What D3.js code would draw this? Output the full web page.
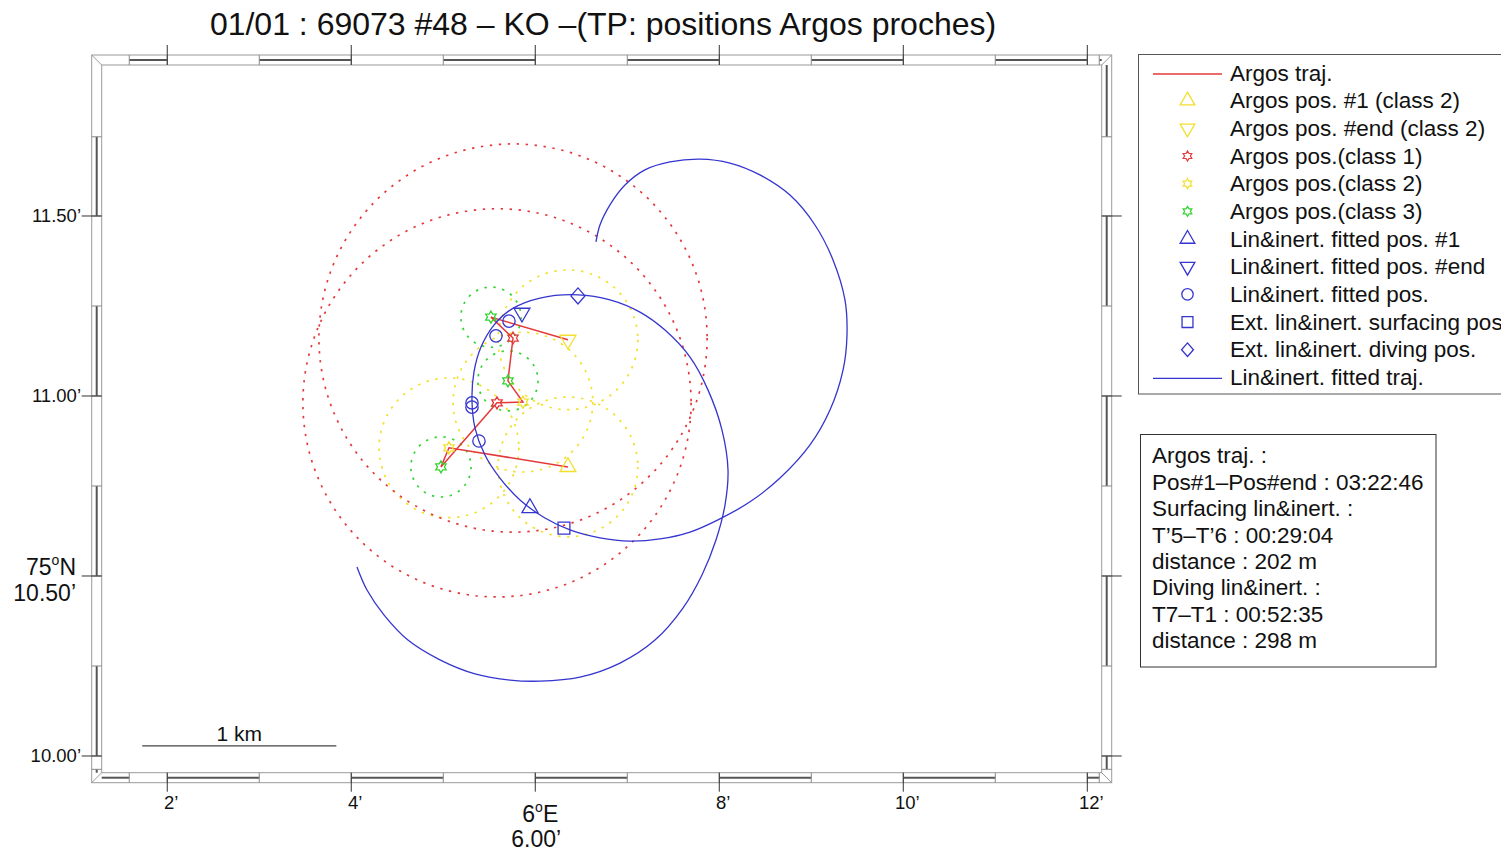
<!DOCTYPE html>
<html><head><meta charset="utf-8">
<script src="https://cdn.jsdelivr.net/npm/d3@7"></script>
<style>
body{margin:0;background:#fff}
svg{display:block}
text{font-family:"Liberation Sans",Arial,Helvetica,sans-serif;fill:#111}
</style>
</head><body>
<svg id="c" width="1501" height="852"></svg>
<script>
// ---------------- DATA (lon / lat in minutes of arc, 6°E / 75°N) ----------------
const titleText = "01/01 : 69073 #48 \u2013 KO \u2013(TP: positions Argos proches)";

// Argos positions in time order
const argosLon   = [6.355, 5.062, 4.975, 5.584, 5.866, 5.703, 5.758, 5.518, 6.355];
const argosLat   = [10.803, 10.856, 10.803, 10.981, 10.983, 11.042, 11.161, 11.219, 11.156];
const argosClass = [2, 2, 3, 1, 2, 3, 1, 3, 2];
// error radius (m) by Argos class
const errClass   = [1, 2, 3];
const errRadiusM = [1000, 360, 155];

// Lin & inert. fitted positions (#1 ... #end)
const fitLon = [5.942, 5.388, 5.312, 5.312, 5.573, 5.714, 5.855];
const fitLat = [10.689, 10.875, 10.981, 10.969, 11.167, 11.208, 11.231];
// Extended lin & inert. surfacing / diving positions
const surfLon = [6.312], surfLat = [10.633];
const diveLon = [6.464], diveLat = [11.278];

// Lin & inert. fitted trajectory (sampled)
const trajLon = [6.660,6.703,6.812,6.975,7.192,7.464,7.790,8.116,8.442,8.768,9.040,9.236,9.366,9.388,9.345,9.203,8.986,8.660,8.334,7.986,7.682,7.355,7.029,6.703,6.377,6.105,5.834,5.616,5.453,5.345,5.312,5.334,5.410,5.551,5.747,6.051,6.464,6.812,7.138,7.410,7.682,7.877,8.029,8.095,8.062,7.964,7.812,7.605,7.301,6.921,6.486,6.051,5.725,5.345,4.964,4.616,4.355,4.171,4.062];
const trajLat = [11.428,11.475,11.531,11.586,11.628,11.650,11.658,11.647,11.614,11.558,11.475,11.378,11.267,11.169,11.072,10.961,10.864,10.772,10.706,10.656,10.622,10.603,10.597,10.606,10.628,10.661,10.711,10.772,10.836,10.911,10.989,11.067,11.136,11.197,11.242,11.272,11.281,11.267,11.233,11.183,11.108,11.017,10.906,10.794,10.697,10.600,10.503,10.411,10.322,10.258,10.219,10.208,10.211,10.228,10.267,10.322,10.392,10.461,10.525];

// axes
const lonTicks  = [2, 4, 6, 8, 10, 12];
const lonLabels = ["2\u2019", "4\u2019", "6.00\u2019", "8\u2019", "10\u2019", "12\u2019"];
const latTicks  = [10.0, 10.5, 11.0, 11.5];
const latLabels = ["10.00\u2019", "10.50\u2019", "11.00\u2019", "11.50\u2019"];
const lonDeg = "6", latDeg = "75";
// map extent and frame breaks
const lonExtent = [1.2875, 12.1565];
const latExtent = [9.9536, 11.9194];
const frameLonBreaks = [1.2875, 1.587, 2, 3, 4, 5, 6, 7, 8, 9, 10, 11, 12, 12.13, 12.1565];
const frameLatBreaks = [9.9536, 9.963, 10.0, 10.25, 10.5, 10.75, 11.0, 11.25, 11.5, 11.72, 11.9194];
// scale bar
const scaleKm = 1, scaleLon = 1.728, scaleLat = 10.028, metersPerLonMin = 474;

// legend and info box
const legendLabels = ["Argos traj.", "Argos pos. #1 (class 2)", "Argos pos. #end (class 2)",
  "Argos pos.(class 1)", "Argos pos.(class 2)", "Argos pos.(class 3)",
  "Lin&inert. fitted pos. #1", "Lin&inert. fitted pos. #end", "Lin&inert. fitted pos.",
  "Ext. lin&inert. surfacing pos", "Ext. lin&inert. diving pos.", "Lin&inert. fitted traj."];
const legendKinds = ["lineR","triUpY","triDnY","starR","starY","starG","triUpB","triDnB","circB","sqB","diaB","lineB"];
const infoLines = ["Argos traj. :", "Pos#1\u2013Pos#end : 03:22:46", "Surfacing lin&inert. :",
  "T\u20195\u2013T\u20196 : 00:29:04", "distance : 202 m", "Diving lin&inert. :",
  "T7\u2013T1 : 00:52:35", "distance : 298 m"];

// ---------------- DRAWING ----------------
const RED = "#e4393b", YEL = "#f2e02c", GRN = "#35d435", BLU = "#3535cf";
const classColor = {1: RED, 2: YEL, 3: GRN};

const svg = d3.select("#c");
const x = d3.scaleLinear().domain(lonExtent).range([101.7, 1101.7]);
const y = d3.scaleLinear().domain(latExtent).range([772.7, 65]);
const mToPx = m => x(lonExtent[0] + m / metersPerLonMin) - x(lonExtent[0]);

const X0 = x(lonExtent[0]), X1 = x(lonExtent[1]), Y0 = y(latExtent[1]), Y1 = y(latExtent[0]);
const bw = 10;

// title
svg.append("text").attr("x", 603).attr("y", 35).attr("text-anchor", "middle")
  .style("font-size", "32px").text(titleText);

// ---- fancy frame ----
const fr = svg.append("g").attr("fill", "none");
const gray = "#9a9a9a";
fr.append("rect").attr("x", X0 - bw).attr("y", Y0 - bw).attr("width", X1 - X0 + 2 * bw).attr("height", Y1 - Y0 + 2 * bw)
  .attr("stroke", gray);
fr.append("rect").attr("x", X0).attr("y", Y0).attr("width", X1 - X0).attr("height", Y1 - Y0).attr("stroke", gray);
[[X0, Y0, -1, -1], [X1, Y0, 1, -1], [X0, Y1, -1, 1], [X1, Y1, 1, 1]].forEach(([cx, cy, sx, sy]) => {
  fr.append("line").attr("x1", cx).attr("y1", cy).attr("x2", cx + sx * bw).attr("y2", cy + sy * bw).attr("stroke", gray);
});
function hBand(yIn, dir, blackParity) {
  const ym = yIn + dir * bw / 2;
  for (let i = 0; i < frameLonBreaks.length - 1; i++) {
    const a = x(frameLonBreaks[i]), b = x(frameLonBreaks[i + 1]);
    if (i % 2 === blackParity) fr.append("line").attr("x1", a).attr("x2", b).attr("y1", ym).attr("y2", ym)
      .attr("stroke", "#555").attr("stroke-width", 2);
    if (i > 0) fr.append("line").attr("x1", a).attr("x2", a).attr("y1", yIn).attr("y2", yIn + dir * bw).attr("stroke", "#888");
  }
}
function vBand(xIn, dir, blackParity) {
  const xm = xIn + dir * bw / 2;
  for (let i = 0; i < frameLatBreaks.length - 1; i++) {
    const a = y(frameLatBreaks[i]), b = y(frameLatBreaks[i + 1]);
    if (i % 2 === blackParity) fr.append("line").attr("y1", a).attr("y2", b).attr("x1", xm).attr("x2", xm)
      .attr("stroke", "#555").attr("stroke-width", 2);
    if (i > 0) fr.append("line").attr("y1", a).attr("y2", a).attr("x1", xIn).attr("x2", xIn + dir * bw).attr("stroke", "#888");
  }
}
hBand(Y1, 1, 0);   // bottom
hBand(Y0, -1, 1);  // top
vBand(X0, -1, 0);  // left
vBand(X1, 1, 1);   // right

// ticks
lonTicks.forEach(t => {
  fr.append("line").attr("x1", x(t)).attr("x2", x(t)).attr("y1", Y0).attr("y2", Y0 - 2 * bw).attr("stroke", "#333");
  fr.append("line").attr("x1", x(t)).attr("x2", x(t)).attr("y1", Y1).attr("y2", Y1 + 2 * bw - 1).attr("stroke", "#333");
});
latTicks.forEach(t => {
  fr.append("line").attr("y1", y(t)).attr("y2", y(t)).attr("x1", X0).attr("x2", X0 - 2 * bw).attr("stroke", "#333");
  fr.append("line").attr("y1", y(t)).attr("y2", y(t)).attr("x1", X1).attr("x2", X1 + 2 * bw).attr("stroke", "#333");
});

// tick labels
lonTicks.forEach((t, i) => {
  if (t === 6) {
    const t1 = svg.append("text").attr("x", x(t) + 5).attr("y", 822).attr("text-anchor", "middle").style("font-size", "23px");
    t1.append("tspan").text(lonDeg);
    t1.append("tspan").attr("dy", -10).style("font-size", "14px").text("o");
    t1.append("tspan").attr("dy", 10).text("E");
    svg.append("text").attr("x", x(t) + 1).attr("y", 847).attr("text-anchor", "middle").style("font-size", "23px").text(lonLabels[i]);
  } else {
    svg.append("text").attr("x", x(t) + 4).attr("y", 809).attr("text-anchor", "middle").style("font-size", "18.5px").text(lonLabels[i]);
  }
});
latTicks.forEach((t, i) => {
  if (t === 10.5) {
    const t1 = svg.append("text").attr("x", 76).attr("y", y(t) - 1).attr("text-anchor", "end").style("font-size", "23px");
    t1.append("tspan").text(latDeg);
    t1.append("tspan").attr("dy", -10).style("font-size", "14px").text("o");
    t1.append("tspan").attr("dy", 10).text("N");
    svg.append("text").attr("x", 76).attr("y", y(t) + 25).attr("text-anchor", "end").style("font-size", "23px").text(latLabels[i]);
  } else {
    svg.append("text").attr("x", 81).attr("y", y(t) + 6.5).attr("text-anchor", "end").style("font-size", "18.5px").text(latLabels[i]);
  }
});

// ---- plot content ----
const g = svg.append("g");
const argos = argosLon.map((lo, i) => ({lon: lo, lat: argosLat[i], cls: argosClass[i]}));
const radiusOf = c => errRadiusM[errClass.indexOf(c)];

// error circles (dotted)
g.selectAll("circle.err").data(argos).enter().append("circle")
  .attr("cx", d => x(d.lon)).attr("cy", d => y(d.lat)).attr("r", d => mToPx(radiusOf(d.cls)))
  .attr("fill", "none").attr("stroke", d => classColor[d.cls]).attr("stroke-width", 1.7)
  .attr("stroke-dasharray", "2.4,6.6");

// Argos trajectory
g.append("path").datum(argos)
  .attr("d", d3.line().x(d => x(d.lon)).y(d => y(d.lat)))
  .attr("fill", "none").attr("stroke", RED).attr("stroke-width", 1.5);

// fitted trajectory
const traj = trajLon.map((lo, i) => [lo, trajLat[i]]);
g.append("path").datum(traj)
  .attr("d", d3.line().x(d => x(d[0])).y(d => y(d[1])).curve(d3.curveCatmullRom))
  .attr("fill", "none").attr("stroke", BLU).attr("stroke-width", 1.3);

// symbols
function hexagram(R) {
  const r = R / Math.sqrt(3), pts = [];
  for (let k = 0; k < 12; k++) {
    const a = -Math.PI / 2 + k * Math.PI / 6, rr = k % 2 ? r : R;
    pts.push([rr * Math.cos(a), rr * Math.sin(a)]);
  }
  return "M" + pts.map(p => p[0].toFixed(2) + "," + p[1].toFixed(2)).join("L") + "Z";
}
function diamond(h, w) {
  return `M0,${-h}L${w},0L0,${h}L${-w},0Z`;
}
const sym = {
  triUp: s => d3.symbol(d3.symbolTriangle, s)(),
  circ: s => d3.symbol(d3.symbolCircle, s)(),
  sq: s => d3.symbol(d3.symbolSquare, s)()
};
function marker(parent, px, py, kind, color, big) {
  const k = big ? 1 : 0.85;
  let p;
  if (kind === "triUp") p = parent.append("path").attr("d", sym.triUp(110 * k)).attr("transform", `translate(${px},${py})`);
  else if (kind === "triDn") p = parent.append("path").attr("d", sym.triUp(110 * k)).attr("transform", `translate(${px},${py}) rotate(180)`);
  else if (kind === "circ") p = parent.append("path").attr("d", sym.circ(120 * k)).attr("transform", `translate(${px},${py})`);
  else if (kind === "sq") p = parent.append("path").attr("d", sym.sq(140 * k)).attr("transform", `translate(${px},${py})`);
  else if (kind === "dia") p = parent.append("path").attr("d", diamond(8 * k, 7 * k)).attr("transform", `translate(${px},${py})`);
  else if (kind === "star") p = parent.append("path").attr("d", hexagram(6 * k)).attr("transform", `translate(${px},${py})`);
  p.attr("fill", "none").attr("stroke", color).attr("stroke-width", 1.3);
}
argos.forEach((d, i) => {
  const last = argos.length - 1;
  if (i === 0) marker(g, x(d.lon), y(d.lat), "triUp", classColor[d.cls], true);
  else if (i === last) marker(g, x(d.lon), y(d.lat), "triDn", classColor[d.cls], true);
  else marker(g, x(d.lon), y(d.lat), "star", classColor[d.cls], true);
});
fitLon.forEach((lo, i) => {
  const last = fitLon.length - 1;
  const kind = i === 0 ? "triUp" : i === last ? "triDn" : "circ";
  marker(g, x(lo), y(fitLat[i]), kind, BLU, true);
});
surfLon.forEach((lo, i) => marker(g, x(lo), y(surfLat[i]), "sq", BLU, true));
diveLon.forEach((lo, i) => marker(g, x(lo), y(diveLat[i]), "dia", BLU, true));

// scale bar
const sbx0 = x(scaleLon), sbx1 = x(scaleLon + scaleKm * 1000 / metersPerLonMin), sby = y(scaleLat);
svg.append("line").attr("x1", sbx0).attr("x2", sbx1).attr("y1", sby).attr("y2", sby).attr("stroke", "#444").attr("stroke-width", 1.3);
svg.append("text").attr("x", (sbx0 + sbx1) / 2).attr("y", sby - 4.5).attr("text-anchor", "middle").style("font-size", "21px").text(scaleKm + " km");

// ---- legend ----
const lg = svg.append("g");
lg.append("rect").attr("x", 1138.5).attr("y", 54.5).attr("width", 400).attr("height", 339.5)
  .attr("fill", "#fff").attr("stroke", "#555");
const rowH = 27.67;
legendLabels.forEach((t, i) => {
  const base = 80.5 + i * rowH, cy = base - 7.5, cx = 1187.5;
  const kind = legendKinds[i];
  if (kind === "lineR" || kind === "lineB") {
    lg.append("line").attr("x1", 1153).attr("x2", 1222).attr("y1", cy + 1).attr("y2", cy + 1)
      .attr("stroke", kind === "lineR" ? RED : BLU).attr("stroke-width", 1.3);
  } else {
    const col = kind.endsWith("Y") ? YEL : kind.endsWith("R") ? RED : kind.endsWith("G") ? GRN : BLU;
    const base2 = kind.slice(0, -1);
    if (base2 === "star") {
      lg.append("path").attr("d", hexagram(5)).attr("transform", `translate(${cx},${cy})`)
        .attr("fill", "none").attr("stroke", col).attr("stroke-width", 1.2);
    } else marker(lg, cx, cy, base2, col, false);
  }
  lg.append("text").attr("x", 1230).attr("y", base).style("font-size", "22.5px").text(t);
});

// ---- info box ----
const ib = svg.append("g");
ib.append("rect").attr("x", 1140.5).attr("y", 434.5).attr("width", 295.5).attr("height", 232.5)
  .attr("fill", "#fff").attr("stroke", "#333");
infoLines.forEach((t, i) => {
  ib.append("text").attr("x", 1152).attr("y", 463.3 + i * 26.4).style("font-size", "22.5px").text(t);
});
</script>
</body></html>
